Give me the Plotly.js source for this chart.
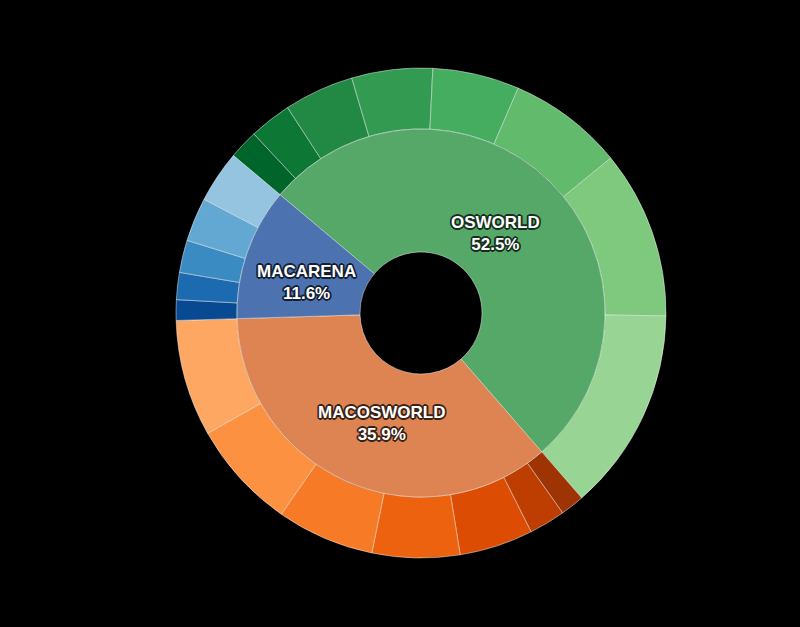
<!DOCTYPE html>
<html>
<head>
<meta charset="utf-8">
<script src="https://cdn.plot.ly/plotly-3.0.1.min.js"></script>
<style>html,body{margin:0;padding:0;background:#000;}#chart{width:800px;height:627px;}</style>
</head>
<body>
<div id="chart"></div>
<script>
// Inner ring (benchmarks), percent of total
const groups = ["OSWORLD", "MACOSWORLD", "MACARENA"];
const groupValues = [52.5, 35.9, 11.6];
const groupColors = ["#55A868", "#DD8452", "#4C72B0"];

// Outer ring sub-segments (percent of total), clockwise order
const osworldParts = [1.94, 2.78, 4.61, 5.33, 5.72, 7.61, 11.08, 13.43];
const macosworldParts = [1.58, 2.39, 4.86, 5.78, 6.44, 7.17, 7.68];
const macarenaParts = [1.36, 1.78, 2.14, 2.89, 3.43];

const osworldColors = ["#00652a", "#0d7835", "#218944", "#329b51", "#45ad5f", "#62bb6d", "#7ec97e", "#98d594"];
const macosworldColors = ["#9e3303", "#be3e02", "#dc4c03", "#ec620f", "#f77a26", "#fd9142", "#fda762"];
const macarenaColors = ["#084a92", "#1c6bb0", "#3b8bc3", "#63a8d3", "#94c4df"];

const outerValues = osworldParts.concat(macosworldParts, macarenaParts);
const outerColors = osworldColors.concat(macosworldColors, macarenaColors);
const outerLabels = outerValues.map((v, i) => "part" + (i + 1));

const edge = {color: "rgba(255,255,255,0.45)", width: 1};
const W = 800, H = 627, cx = 421, cy = 313, R1 = 245, R2 = 184, R0 = 61;

const outer = {
  type: "pie",
  labels: outerLabels,
  values: outerValues,
  sort: false,
  direction: "clockwise",
  rotation: -50,
  hole: R2 / R1,
  marker: {colors: outerColors, line: edge},
  textinfo: "none",
  hoverinfo: "skip",
  domain: {x: [(cx - R1) / W, (cx + R1) / W], y: [(H - cy - R1) / H, (H - cy + R1) / H]},
  showlegend: false
};

const inner = {
  type: "pie",
  labels: groups,
  values: groupValues,
  sort: false,
  direction: "clockwise",
  rotation: -50,
  hole: R0 / R2,
  marker: {colors: groupColors, line: edge},
  textinfo: "none",
  hoverinfo: "label+percent",
  domain: {x: [(cx - R2) / W, (cx + R2) / W], y: [(H - cy - R2) / H, (H - cy + R2) / H]},
  showlegend: false
};

// label placement (pixel centres) and outline tints
const labelPos = [[495, 233], [381, 423], [306, 282]];
const outlineColors = ["#17301d", "#3a2216", "#141f33"];
function outline(c) {
  const s = [];
  for (let a = 0; a < 360; a += 30) {
    const r = a * Math.PI / 180;
    s.push((1.6 * Math.cos(r)).toFixed(2) + "px " + (1.6 * Math.sin(r)).toFixed(2) + "px 0 " + c);
  }
  return s.join(", ");
}
const total = groupValues.reduce((a, b) => a + b, 0);
const annotations = groups.map((g, i) => ({
  xref: "paper", yref: "paper",
  x: labelPos[i][0] / W, y: 1 - labelPos[i][1] / H,
  xanchor: "center", yanchor: "middle", align: "center",
  showarrow: false,
  text: g + "<br>" + (groupValues[i] / total * 100).toFixed(1) + "%",
  font: {family: "Liberation Sans, Arial, sans-serif", size: 17, color: "#ffffff", weight: 600, shadow: outline(outlineColors[i])}
}));

Plotly.newPlot("chart", [outer, inner], {
  width: W, height: H,
  paper_bgcolor: "#000000",
  plot_bgcolor: "#000000",
  margin: {l: 0, r: 0, t: 0, b: 0},
  showlegend: false,
  annotations: annotations
}, {displayModeBar: false, staticPlot: true});
</script>
</body>
</html>
